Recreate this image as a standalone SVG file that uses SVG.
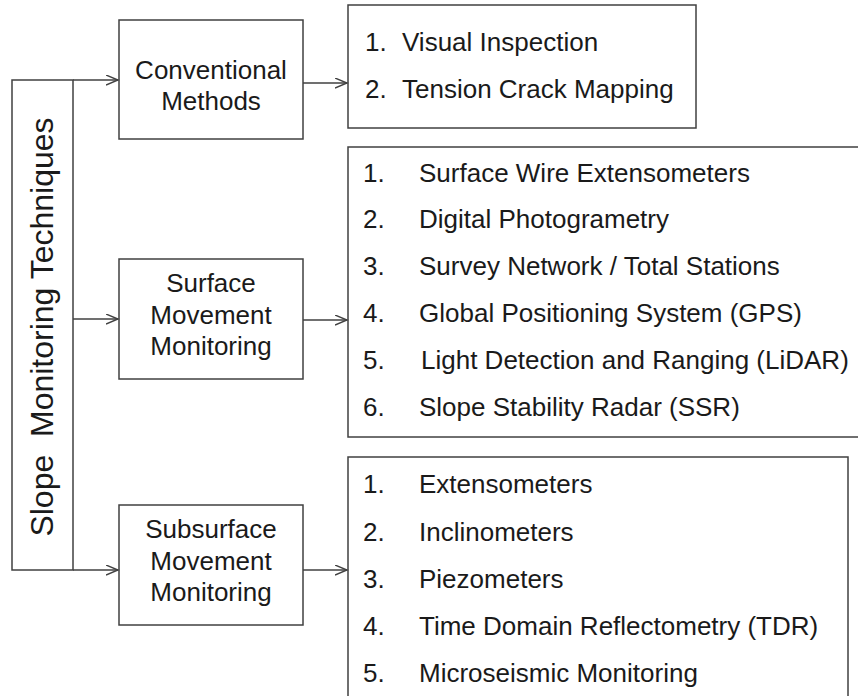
<svg xmlns="http://www.w3.org/2000/svg" width="858" height="696" viewBox="0 0 858 696">
  <style>
    .box { fill: #ffffff; stroke: #404040; stroke-width: 1.5; }
    .line { fill: none; stroke: #404040; stroke-width: 1.5; }
    .label { font-family: "Liberation Sans", Arial, sans-serif; font-size: 26px; fill: #1a1a1a; text-anchor: middle; }
    .item { font-family: "Liberation Sans", Arial, sans-serif; font-size: 26px; fill: #1a1a1a; }
    .title { font-family: "Liberation Sans", Arial, sans-serif; font-size: 32px; fill: #1a1a1a; text-anchor: middle; }
  </style>
  <defs>
    <marker id="chevron" markerUnits="userSpaceOnUse" markerWidth="14" markerHeight="12" refX="12" refY="5" orient="auto">
      <path d="M0,0 L12,5 L0,10" fill="none" stroke="#404040" stroke-width="1.4"/>
    </marker>
  </defs>
  <rect width="858" height="696" fill="#ffffff"/>

  <!-- root: vertical title box -->
  <g id="root">
    <rect class="box" x="12" y="80" width="61" height="490"/>
    <text class="title" transform="translate(53,327) rotate(-90)" xml:space="preserve">Slope  Monitoring Techniques</text>
  </g>

  <!-- category nodes -->
  <g id="conventional">
    <rect class="box" x="119" y="20" width="184" height="119"/>
    <text class="label" x="211" y="79">Conventional</text>
    <text class="label" x="211" y="110">Methods</text>
  </g>
  <g id="surface">
    <rect class="box" x="119" y="259" width="184" height="120"/>
    <text class="label" x="211" y="292">Surface</text>
    <text class="label" x="211" y="324">Movement</text>
    <text class="label" x="211" y="355">Monitoring</text>
  </g>
  <g id="subsurface">
    <rect class="box" x="119" y="505" width="184" height="120"/>
    <text class="label" x="211" y="538">Subsurface</text>
    <text class="label" x="211" y="570">Movement</text>
    <text class="label" x="211" y="601">Monitoring</text>
  </g>

  <!-- technique lists -->
  <g id="conventional-list">
    <rect class="box" x="348" y="5" width="348" height="123"/>
    <text class="item" x="365" y="51">1.</text>
    <text class="item" x="402" y="51">Visual Inspection</text>
    <text class="item" x="365" y="98">2.</text>
    <text class="item" x="402" y="98">Tension Crack Mapping</text>
  </g>
  <g id="surface-list">
    <rect class="box" x="348" y="147" width="530" height="290"/>
    <text class="item" x="363" y="182">1.</text>
    <text class="item" x="419" y="182">Surface Wire Extensometers</text>
    <text class="item" x="363" y="228">2.</text>
    <text class="item" x="419" y="228">Digital Photogrametry</text>
    <text class="item" x="363" y="275">3.</text>
    <text class="item" x="419" y="275">Survey Network / Total Stations</text>
    <text class="item" x="363" y="322">4.</text>
    <text class="item" x="419" y="322">Global Positioning System (GPS)</text>
    <text class="item" x="363" y="369">5.</text>
    <text class="item" x="421" y="369">Light Detection and Ranging (LiDAR)</text>
    <text class="item" x="363" y="416">6.</text>
    <text class="item" x="419" y="416">Slope Stability Radar (SSR)</text>
  </g>
  <g id="subsurface-list">
    <rect class="box" x="348" y="457" width="500" height="260"/>
    <text class="item" x="363" y="493">1.</text>
    <text class="item" x="419" y="493">Extensometers</text>
    <text class="item" x="363" y="541">2.</text>
    <text class="item" x="419" y="541">Inclinometers</text>
    <text class="item" x="363" y="588">3.</text>
    <text class="item" x="419" y="588">Piezometers</text>
    <text class="item" x="363" y="635">4.</text>
    <text class="item" x="419" y="635">Time Domain Reflectometry (TDR)</text>
    <text class="item" x="363" y="682">5.</text>
    <text class="item" x="419" y="682">Microseismic Monitoring</text>
  </g>

  <!-- connectors -->
  <g id="connectors">
    <line class="line" x1="73" y1="80" x2="118" y2="80" marker-end="url(#chevron)"/>
    <line class="line" x1="73" y1="319" x2="118" y2="319" marker-end="url(#chevron)"/>
    <line class="line" x1="73" y1="570" x2="118" y2="570" marker-end="url(#chevron)"/>
    <line class="line" x1="303" y1="83" x2="347" y2="83" marker-end="url(#chevron)"/>
    <line class="line" x1="303" y1="320" x2="347" y2="320" marker-end="url(#chevron)"/>
    <line class="line" x1="303" y1="570" x2="347" y2="570" marker-end="url(#chevron)"/>
  </g>
</svg>
